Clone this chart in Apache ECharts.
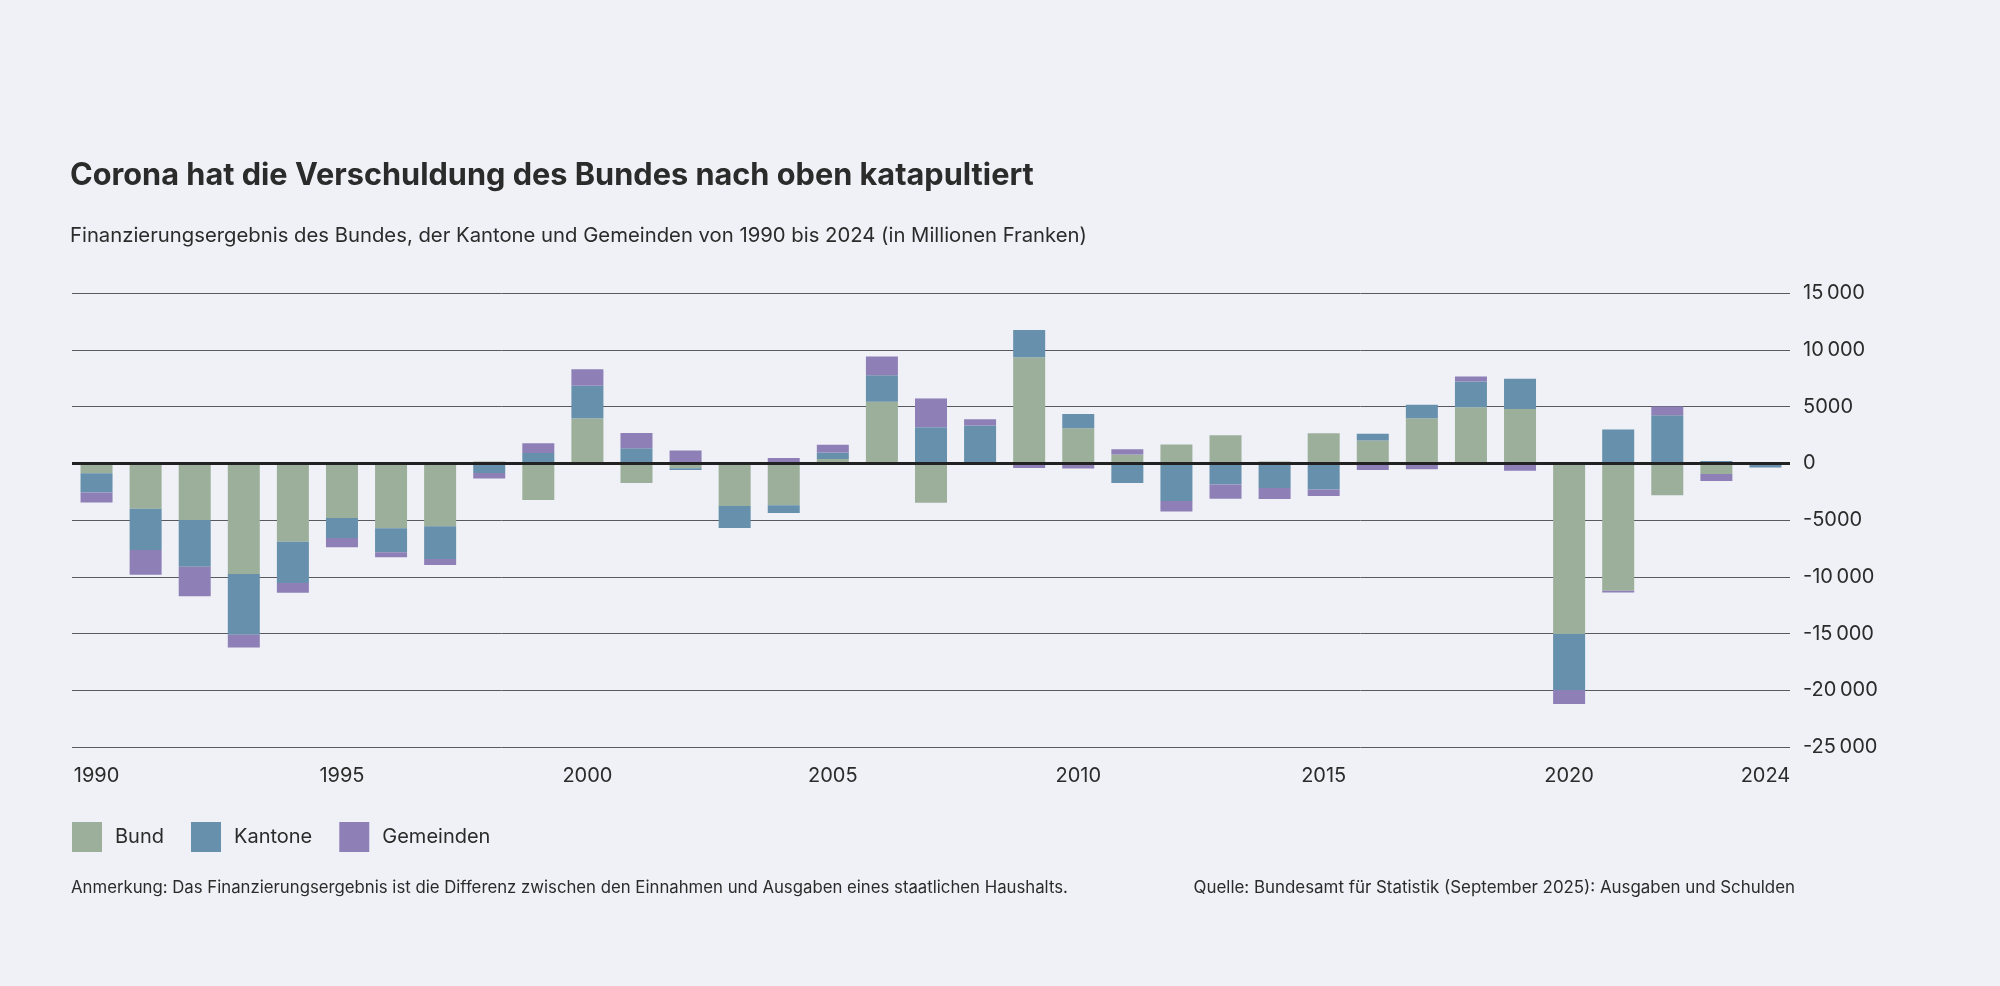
<!DOCTYPE html>
<html>
<head>
<meta charset="utf-8">
<title>Finanzierungsergebnis</title>
<script src="https://cdn.jsdelivr.net/npm/echarts@6.0.0/dist/echarts.min.js"></script>
<style>
	html, body { margin: 0; padding: 0; background: #eff1f6; }
	#chart { width: 2000px; height: 986px; }
</style>
</head>
<body>
<div id="chart"></div>
<script>
// Jahre
var years = ['1990', '1991', '1992', '1993', '1994', '1995', '1996', '1997', '1998', '1999',
	'2000', '2001', '2002', '2003', '2004', '2005', '2006', '2007', '2008', '2009',
	'2010', '2011', '2012', '2013', '2014', '2015', '2016', '2017', '2018', '2019',
	'2020', '2021', '2022', '2023', '2024'];

// Mio. Franken
var bund = [-880, -4000, -5000, -9760, -6910, -4820, -5730, -5560, 150, -3240,
	3970, -1730, -440, -3760, -3700, 380, 5410, -3470, 0, 9350,
	3090, 760, 1650, 2470, 150, 2650, 2000, 3970, 4940, 4790,
	-15040, -11230, -2820, -940, 100];

var kantone = [-1700, -3650, -4120, -5350, -3650, -1760, -2120, -2880, -850, 910,
	2850, 1320, -150, -1940, -680, 560, 2350, 3180, 3320, 2380,
	1240, -1730, -3320, -1880, -2170, -2320, 590, 1180, 2260, 2650,
	-4940, 2970, 4230, 200, -380];

var gemeinden = [-880, -2180, -2590, -1120, -850, -820, -440, -530, -500, 850,
	1470, 1350, 1120, 0, 470, 700, 1650, 2530, 560, -410,
	-470, 470, -940, -1240, -970, -560, -590, -530, 440, -650,
	-1240, -150, 760, -620, 0];

var yTicks = { min: -25000, max: 15000, step: 5000 };

var FONT = 'Inter';
var TXT = '#2b2b2b';

function fmtNumber(v) {
	// 10 000 mit schmalem Abstand, 5000 ohne
	var s = Math.abs(v).toString();
	if (s.length > 4) {
		s = s.slice(0, s.length - 3) + '\u2009' + s.slice(s.length - 3);
	}
	return (v < 0 ? '-' : '') + s;
}

function barSeries(name, data, color) {
	return {
		name: name,
		type: 'bar',
		stack: 'total',
		data: data,
		barWidth: 32,
		itemStyle: { color: color },
		emphasis: { disabled: true }
	};
}

var myChart = echarts.init(document.getElementById('chart'));

var series = [
	barSeries('Bund', bund, '#9caf9b'),
	barSeries('Kantone', kantone, '#6690ab'),
	barSeries('Gemeinden', gemeinden, '#8e80b7')
];
// Nulllinie
series[2].markLine = {
	silent: true,
	symbol: 'none',
	label: { show: false },
	lineStyle: { color: '#222', width: 3, type: 'solid' },
	data: [{ yAxis: 0 }]
};

var option = {
	backgroundColor: '#eff1f6',
	animation: false,
	textStyle: { fontFamily: FONT },
	title: [
		{
			text: 'Corona hat die Verschuldung des Bundes nach oben katapultiert',
			left: 65,
			top: 155,
			textStyle: { fontFamily: FONT, fontSize: 30.7, fontWeight: 700, color: TXT }
		},
		{
			text: 'Finanzierungsergebnis des Bundes, der Kantone und Gemeinden von 1990 bis 2024 (in Millionen Franken)',
			left: 65,
			top: 221,
			textStyle: { fontFamily: FONT, fontSize: 20.3, fontWeight: 400, color: TXT }
		},
		{
			text: 'Anmerkung: Das Finanzierungsergebnis ist die Differenz zwischen den Einnahmen und Ausgaben eines staatlichen Haushalts.',
			left: 66,
			top: 874,
			textStyle: { fontFamily: FONT, fontSize: 16.75, fontWeight: 400, color: TXT }
		},
		{
			text: 'Quelle: Bundesamt für Statistik (September 2025): Ausgaben und Schulden',
			right: 200,
			top: 874,
			textStyle: { fontFamily: FONT, fontSize: 16.9, fontWeight: 400, color: TXT }
		}
	],
	legend: {
		left: 67,
		top: 817,
		icon: 'rect',
		itemWidth: 30,
		itemHeight: 30,
		itemGap: 27,
		selectedMode: false,
		textStyle: { fontFamily: FONT, fontSize: 20, color: TXT, padding: [0, 0, 0, 8] },
		data: ['Bund', 'Kantone', 'Gemeinden']
	},
	grid: {
		left: 72,
		right: 210,
		top: 293,
		bottom: 239,
		containLabel: false
	},
	xAxis: {
		type: 'category',
		data: years,
		axisLine: { show: false },
		axisTick: { show: false },
		axisLabel: {
			margin: 19,
			fontSize: 20,
			color: TXT,
			fontFamily: FONT,
			interval: function (idx, value) {
				return (Number(value) - 1990) % 5 === 0 || value === '2024';
			}
		}
	},
	yAxis: {
		type: 'value',
		position: 'right',
		min: yTicks.min,
		max: yTicks.max,
		interval: yTicks.step,
		axisLine: { show: false },
		axisTick: { show: false },
		axisLabel: {
			margin: 13,
			fontSize: 20,
			color: TXT,
			fontFamily: FONT,
			formatter: fmtNumber
		},
		splitLine: { lineStyle: { color: '#575b61', width: 1 } }
	},
	series: series
};

myChart.setOption(option);
</script>
</body>
</html>
